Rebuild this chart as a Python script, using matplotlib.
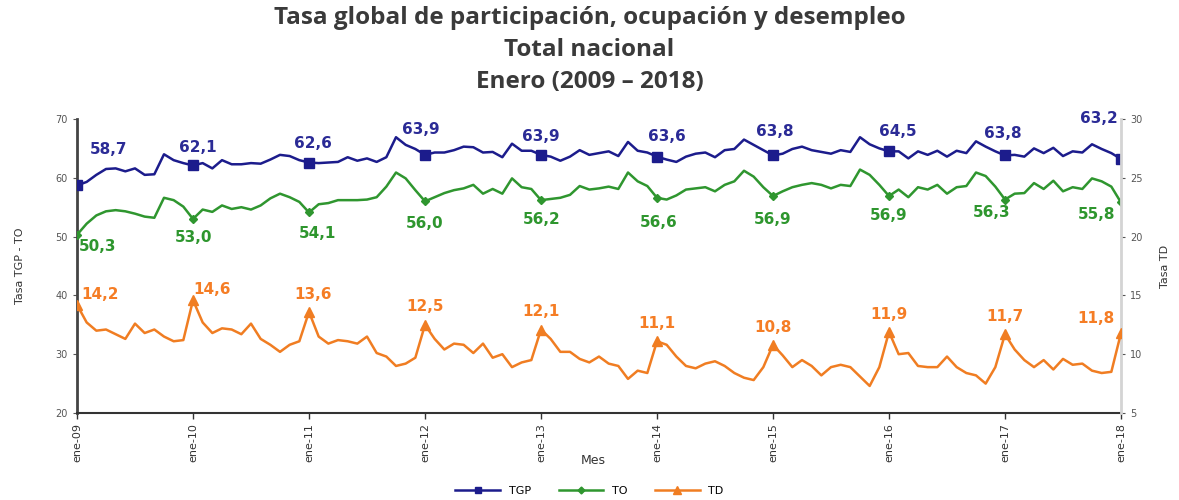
import matplotlib
matplotlib.use("Agg")
import matplotlib.pyplot as plt
from matplotlib.lines import Line2D

# --- data (monthly, ene-09 .. ene-18) ---
years = ["09", "10", "11", "12", "13", "14", "15", "16", "17", "18"]
tick_labels = ["ene-" + y for y in years]

tgp = [58.7, 59.3, 60.5, 61.5, 61.6, 61.1, 61.6, 60.5, 60.6, 64.0, 63.0, 62.5,
       62.1, 62.5, 61.6, 63.0, 62.3, 62.3, 62.5, 62.4, 63.1, 63.9, 63.7, 63.0,
       62.6, 62.5, 62.6, 62.7, 63.5, 62.9, 63.3, 62.7, 63.5, 66.9, 65.6, 64.9,
       63.9, 64.3, 64.3, 64.7, 65.3, 65.2, 64.3, 64.4, 63.5, 65.8, 64.6, 64.6,
       63.9, 63.6, 62.9, 63.6, 64.7, 63.9, 64.2, 64.5, 63.7, 66.1, 64.6, 64.3,
       63.6, 63.1, 62.7, 63.6, 64.1, 64.3, 63.5, 64.7, 64.9, 66.5, 65.6, 64.7,
       63.8, 64.1, 64.9, 65.3, 64.7, 64.4, 64.1, 64.7, 64.4, 66.9, 65.7, 65.0,
       64.5, 64.5, 63.3, 64.5, 63.9, 64.6, 63.6, 64.6, 64.2, 66.2, 65.3, 64.5,
       63.8, 63.9, 63.6, 65.0, 64.2, 65.1, 63.7, 64.5, 64.3, 65.7, 64.9, 64.2,
       63.2]

to = [50.3, 52.2, 53.6, 54.3, 54.5, 54.3, 53.9, 53.4, 53.2, 56.6, 56.2, 55.1,
      53.0, 54.6, 54.2, 55.3, 54.7, 55.0, 54.6, 55.3, 56.5, 57.3, 56.7, 55.9,
      54.1, 55.5, 55.7, 56.2, 56.2, 56.2, 56.3, 56.7, 58.5, 60.9, 59.9, 57.9,
      56.0, 56.7, 57.4, 57.9, 58.2, 58.8, 57.3, 58.1, 57.3, 59.9, 58.4, 58.1,
      56.2, 56.4, 56.6, 57.1, 58.6, 58.0, 58.2, 58.5, 58.1, 60.9, 59.4, 58.6,
      56.6, 56.3, 57.0, 58.0, 58.2, 58.4, 57.7, 58.8, 59.4, 61.2, 60.2, 58.4,
      56.9, 57.7, 58.4, 58.8, 59.1, 58.8, 58.2, 58.8, 58.6, 61.4, 60.5, 58.8,
      56.9, 58.0, 56.7, 58.4, 58.0, 58.8, 57.3, 58.4, 58.6, 60.9, 60.3, 58.5,
      56.3, 57.3, 57.4, 59.1, 58.1, 59.5, 57.7, 58.4, 58.1, 59.9, 59.4, 58.5,
      55.8]

td = [14.2, 12.7, 12.0, 12.1, 11.7, 11.3, 12.6, 11.8, 12.1, 11.5, 11.1, 11.2,
      14.6, 12.7, 11.8, 12.2, 12.1, 11.7, 12.6, 11.3, 10.8, 10.2, 10.8, 11.1,
      13.6, 11.5, 10.9, 11.2, 11.1, 10.9, 11.5, 10.1, 9.8, 9.0, 9.2, 9.7,
      12.5, 11.3, 10.4, 10.9, 10.8, 10.1, 10.9, 9.7, 10.0, 8.9, 9.3, 9.5,
      12.1, 11.3, 10.2, 10.2, 9.6, 9.3, 9.8, 9.2, 9.0, 7.9, 8.6, 8.4,
      11.1, 10.8, 9.8, 9.0, 8.8, 9.2, 9.4, 9.0, 8.4, 8.0, 7.8, 8.9,
      10.8, 9.9, 8.9, 9.5, 9.0, 8.2, 8.9, 9.1, 8.9, 8.1, 7.3, 8.9,
      11.9, 10.0, 10.1, 9.0, 8.9, 8.9, 9.8, 8.9, 8.4, 8.2, 7.5, 8.9,
      11.7, 10.4, 9.5, 8.9, 9.5, 8.7, 9.6, 9.1, 9.2, 8.6, 8.4, 8.5,
      11.8]

x = list(range(len(tgp)))
jan = list(range(0, len(tgp), 12))

c_tgp = "#1c1c8c"
c_to = "#2f962f"
c_td = "#f07d22"

# label offsets in pixels (dx, dy) for each January label
off_tgp = [(32, 36), (5, 18), (4, 19), (-4, 25), (0, 18), (10, 20), (2, 24), (9, 20), (-2, 22), (-22, 40)]
off_to = [(21, -12), (1, -19), (8, -21), (0, -22), (1, -19), (2, -25), (0, -23), (0, -19), (-13, -13), (-24, -12)]
off_td = [(23, 10), (19, 11), (4, 17), (0, 18), (0, 18), (0, 18), (0, 17), (0, 17), (0, 18), (-25, 15)]

fig = plt.figure(figsize=(11.79, 5.0), dpi=100)
ax = fig.add_axes([77 / 1179, 87 / 500, 1044 / 1179, 294 / 500])
ax2 = ax.twinx()

ax.plot(x, tgp, color=c_tgp, lw=1.8, marker="s", ms=6.5, markevery=jan, zorder=3)
ax.plot(x, to, color=c_to, lw=1.8, marker="D", ms=4, markevery=jan, zorder=3)
ax2.plot(x, td, color=c_td, lw=1.8, marker="^", ms=6.5, markevery=jan, zorder=3)

for k, i in enumerate(jan):
    ax.annotate(f"{tgp[i]:.1f}".replace(".", ","), (i, tgp[i]), xytext=off_tgp[k],
                textcoords="offset pixels", ha="center", va="center",
                fontsize=11, fontweight="bold", color="#2b2b96")
    ax.annotate(f"{to[i]:.1f}".replace(".", ","), (i, to[i]), xytext=off_to[k],
                textcoords="offset pixels", ha="center", va="center",
                fontsize=11, fontweight="bold", color="#2e962e")
    ax2.annotate(f"{td[i]:.1f}".replace(".", ","), (i, td[i]), xytext=off_td[k],
                 textcoords="offset pixels", ha="center", va="center",
                 fontsize=11, fontweight="bold", color="#f57d25")

ax.set_xlim(0, len(tgp) - 1)
ax.set_ylim(20, 70)
ax.set_yticks(range(20, 71, 10))
ax2.set_ylim(5, 30)
ax2.set_yticks(range(5, 31, 5))

ax.set_xticks(jan)
ax.set_xticklabels(tick_labels, rotation=90, fontsize=8, color="#333333")
ax.tick_params(axis="y", labelsize=7, colors="#555555", length=3)
ax.tick_params(axis="x", length=4, width=1, color="#333333")
ax2.tick_params(axis="y", labelsize=7, colors="#555555", length=3)

for a in (ax, ax2):
    a.spines["top"].set_visible(False)
ax.spines["right"].set_visible(False)
ax2.spines["left"].set_visible(False)
ax2.spines["bottom"].set_visible(False)
ax.spines["left"].set_color("#444444")
ax.spines["left"].set_linewidth(2)
ax.spines["bottom"].set_color("#333333")
ax.spines["bottom"].set_linewidth(1.5)
ax2.spines["right"].set_color("#d4d4d4")
ax2.spines["right"].set_linewidth(2)

fig.text(593 / 1179, 1 - 460 / 500, "Mes", ha="center", va="center", fontsize=9, color="#333333")
ax.set_ylabel("Tasa TGP - TO", fontsize=8, color="#333333", labelpad=22)
ax2.set_ylabel("Tasa TD", fontsize=8, color="#333333", labelpad=20, rotation=90, va="bottom")

title_font = ["Open Sans", "DejaVu Sans"]
fig.text(0.5, 1 - 18 / 500, "Tasa global de participación, ocupación y desempleo",
         ha="center", va="center", fontsize=17.5, fontweight="bold", color="#3a3a3a", family=title_font)
fig.text(0.5, 1 - 50 / 500, "Total nacional",
         ha="center", va="center", fontsize=17.5, fontweight="bold", color="#3a3a3a", family=title_font)
fig.text(0.5, 1 - 82 / 500, "Enero (2009 – 2018)",
         ha="center", va="center", fontsize=17.5, fontweight="bold", color="#3a3a3a", family=title_font)

handles = [Line2D([], [], color=c_tgp, lw=1.8, marker="s", ms=5),
           Line2D([], [], color=c_to, lw=1.8, marker="D", ms=3.5),
           Line2D([], [], color=c_td, lw=1.8, marker="^", ms=5.5)]
fig.legend(handles, ["TGP", "TO", "TD"], loc="center", bbox_to_anchor=(0.5, 1 - 491 / 500),
           ncol=3, frameon=False, fontsize=8, handlelength=4, columnspacing=2.5)

fig.savefig("out.png", dpi=100)
